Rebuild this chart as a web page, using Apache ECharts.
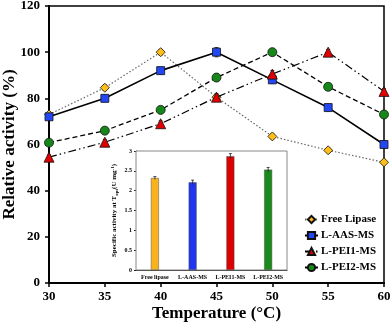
<!DOCTYPE html>
<html>
<head>
<meta charset="utf-8">
<script src="https://cdn.jsdelivr.net/npm/echarts@6/dist/echarts.min.js"></script>
<style>
  html, body { margin: 0; padding: 0; background: #fff; }
  #chart { width: 392px; height: 328px; }
</style>
</head>
<body>
<div id="chart"></div>
<script>
// Main plot: relative activity vs temperature
const temps = [30, 35, 40, 45, 50, 55, 60];
const freeLipase = [73, 84.6, 100, 80.5, 63.5, 57.5, 52.3];
const lAAS = [72, 80, 92, 100, 88, 76, 60];
const lPEI1 = [54.5, 61, 69, 80.5, 90.5, 100, 83];
const lPEI2 = [60.8, 66, 75, 89, 100, 85, 73];
const freeErr = [1, 1.2, 1.2, 1, 1, 1, 1];
const aasErr = [1.2, 1.5, 1.5, 2, 1.5, 1.5, 1.5];
const pei1Err = [1, 1.2, 1.2, 1.5, 1.5, 1.2, 1.2];
const pei2Err = [1, 1.5, 1.5, 1.5, 1.2, 1.2, 1.2];

// Inset: specific activity at T_opt
const insetCats = ['Free lipase', 'L-AAS-MS', 'L-PEI1-MS', 'L-PEI2-MS'];
const insetVals = [2.32, 2.21, 2.87, 2.53];
const insetErr = [0.01, 0.03, 0.04, 0.03];

const serif = 'Liberation Serif';
const colors = {
  free: '#FFBE1A',
  aas: '#2447F5',
  pei1: '#E00000',
  pei2: '#16881A'
};
const insetColors = ['#F9B21B', '#2233EE', '#DD0000', '#1A8A1A'];

const pairs = vals => vals.map((v, i) => [temps[i], v]);

// error bar helper for the main plot
function errSeries(vals, errs) {
  return {
    type: 'custom',
    xAxisIndex: 0, yAxisIndex: 0,
    z: 1,
    silent: true,
    data: vals.map((v, i) => [temps[i], v, errs[i]]),
    renderItem: (params, api) => {
      const x = api.value(0), y = api.value(1), e = api.value(2);
      const hi = api.coord([x, y + e]);
      const lo = api.coord([x, y - e]);
      const st = { stroke: '#333', lineWidth: 1 };
      return {
        type: 'group',
        children: [
          { type: 'line', shape: { x1: hi[0], y1: hi[1], x2: lo[0], y2: lo[1] }, style: st },
          { type: 'line', shape: { x1: hi[0] - 2, y1: hi[1], x2: hi[0] + 2, y2: hi[1] }, style: st },
          { type: 'line', shape: { x1: lo[0] - 2, y1: lo[1], x2: lo[0] + 2, y2: lo[1] }, style: st }
        ]
      };
    }
  };
}

function lineSeries(name, vals, symbol, size, color, lineType, lineColor, width, z) {
  return {
    name: name,
    type: 'line',
    xAxisIndex: 0, yAxisIndex: 0,
    z: z,
    data: pairs(vals),
    symbol: symbol,
    symbolSize: size,
    itemStyle: { color: color, borderColor: '#111', borderWidth: 0.8 },
    lineStyle: { color: lineColor, width: width, type: lineType },
    emphasis: { disabled: true }
  };
}

const chart = echarts.init(document.getElementById('chart'));

const option = {
  animation: false,
  grid: [
    { left: 49, top: 6, right: 8, bottom: 45, outerBoundsMode: 'none', show: true, borderColor: '#000', borderWidth: 1.5 },
    { left: 136, top: 151, width: 151, height: 119, outerBoundsMode: 'none', show: true, borderColor: '#888', borderWidth: 1, backgroundColor: '#fff', z: 4 }
  ],
  legend: {
    orient: 'vertical',
    left: 299,
    top: 209,
    itemWidth: 13,
    itemHeight: 9,
    itemGap: 5,
    textStyle: { fontFamily: serif, fontWeight: 'bold', fontSize: 11, color: '#000', padding: [0, 0, 0, -2] },
    data: ['Free Lipase', 'L-AAS-MS', 'L-PEI1-MS', 'L-PEI2-MS']
  },
  xAxis: [
    {
      type: 'value', gridIndex: 0, min: 30, max: 60, interval: 5,
      name: 'Temperature (°C)', nameLocation: 'middle', nameGap: 22, nameMoveOverlap: false,
      nameTextStyle: { fontFamily: serif, fontWeight: 'bold', fontSize: 17, color: '#000' },
      axisLine: { lineStyle: { color: '#000', width: 2 } },
      axisTick: { length: 4, lineStyle: { color: '#000', width: 1.5 } },
      axisLabel: { margin: 7, fontFamily: serif, fontWeight: 'bold', fontSize: 13, color: '#000' },
      splitLine: { show: false }
    },
    {
      type: 'category', gridIndex: 1, data: insetCats,
      axisLine: { lineStyle: { color: '#222', width: 1 } },
      axisTick: { show: false },
      axisLabel: { interval: 0, margin: 4, fontFamily: serif, fontWeight: 'bold', fontSize: 6, color: '#000' }
    }
  ],
  yAxis: [
    {
      type: 'value', gridIndex: 0, min: 0, max: 120, interval: 20,
      name: 'Relative activity (%)', nameLocation: 'middle', nameGap: 31, nameMoveOverlap: false,
      nameTextStyle: { fontFamily: serif, fontWeight: 'bold', fontSize: 17, color: '#000' },
      axisLine: { show: true, lineStyle: { color: '#000', width: 2 } },
      axisTick: { show: true, length: 4, lineStyle: { color: '#000', width: 1.5 } },
      axisLabel: { margin: 9, fontFamily: serif, fontWeight: 'bold', fontSize: 13, color: '#000' },
      splitLine: { show: false }
    },
    {
      type: 'value', gridIndex: 1, min: 0, max: 3, interval: 0.5,
      name: 'Specific activity at T{sub|opt}(U mg{sup|-1})', nameLocation: 'middle', nameGap: 17, nameMoveOverlap: false,
      nameTextStyle: {
        fontFamily: serif, fontWeight: 'bold', fontSize: 7, color: '#000',
        rich: {
          sub: { fontFamily: serif, fontWeight: 'bold', fontSize: 5, verticalAlign: 'bottom', padding: [4, 0, 0, 0] },
          sup: { fontFamily: serif, fontWeight: 'bold', fontSize: 5, verticalAlign: 'top', padding: [0, 0, 4, 0] }
        }
      },
      axisLine: { show: true, lineStyle: { color: '#222', width: 1 } },
      axisTick: { show: true, length: 2, lineStyle: { color: '#222' } },
      axisLabel: { margin: 4, fontFamily: serif, fontWeight: 'bold', fontSize: 6, color: '#000' },
      splitLine: { show: false }
    }
  ],
  series: [
    errSeries(freeLipase, freeErr),
    errSeries(lAAS, aasErr),
    errSeries(lPEI1, pei1Err),
    errSeries(lPEI2, pei2Err),
    lineSeries('Free Lipase', freeLipase, 'diamond', 9, colors.free, [1.5, 2], '#666', 1.2, 2),
    lineSeries('L-AAS-MS', lAAS, 'rect', 8, colors.aas, 'solid', '#000', 1.6, 3),
    lineSeries('L-PEI1-MS', lPEI1, 'triangle', 10, colors.pei1, [8, 3, 1.5, 3, 1.5, 3], '#000', 1.2, 3),
    lineSeries('L-PEI2-MS', lPEI2, 'circle', 9, colors.pei2, [5, 3], '#000', 1.3, 3),
    {
      type: 'bar',
      xAxisIndex: 1, yAxisIndex: 1,
      z: 5,
      barWidth: 8,
      data: insetVals.map((v, i) => ({
        value: v,
        itemStyle: { color: insetColors[i], borderColor: '#555', borderWidth: 0.5 }
      })),
      emphasis: { disabled: true }
    },
    {
      type: 'custom',
      xAxisIndex: 1, yAxisIndex: 1,
      z: 6,
      silent: true,
      data: insetVals.map((v, i) => [i, v, insetErr[i]]),
      renderItem: (params, api) => {
        const x = api.value(0), y = api.value(1), e = api.value(2);
        const hi = api.coord([x, y + e]);
        const lo = api.coord([x, y - e]);
        const st = { stroke: '#222', lineWidth: 0.8 };
        return {
          type: 'group',
          children: [
            { type: 'line', shape: { x1: hi[0], y1: hi[1] - 1, x2: lo[0], y2: lo[1] + 1 }, style: st },
            { type: 'line', shape: { x1: hi[0] - 1.5, y1: hi[1] - 1, x2: hi[0] + 1.5, y2: hi[1] - 1 }, style: st }
          ]
        };
      }
    }
  ]
};

chart.setOption(option);
</script>
</body>
</html>
